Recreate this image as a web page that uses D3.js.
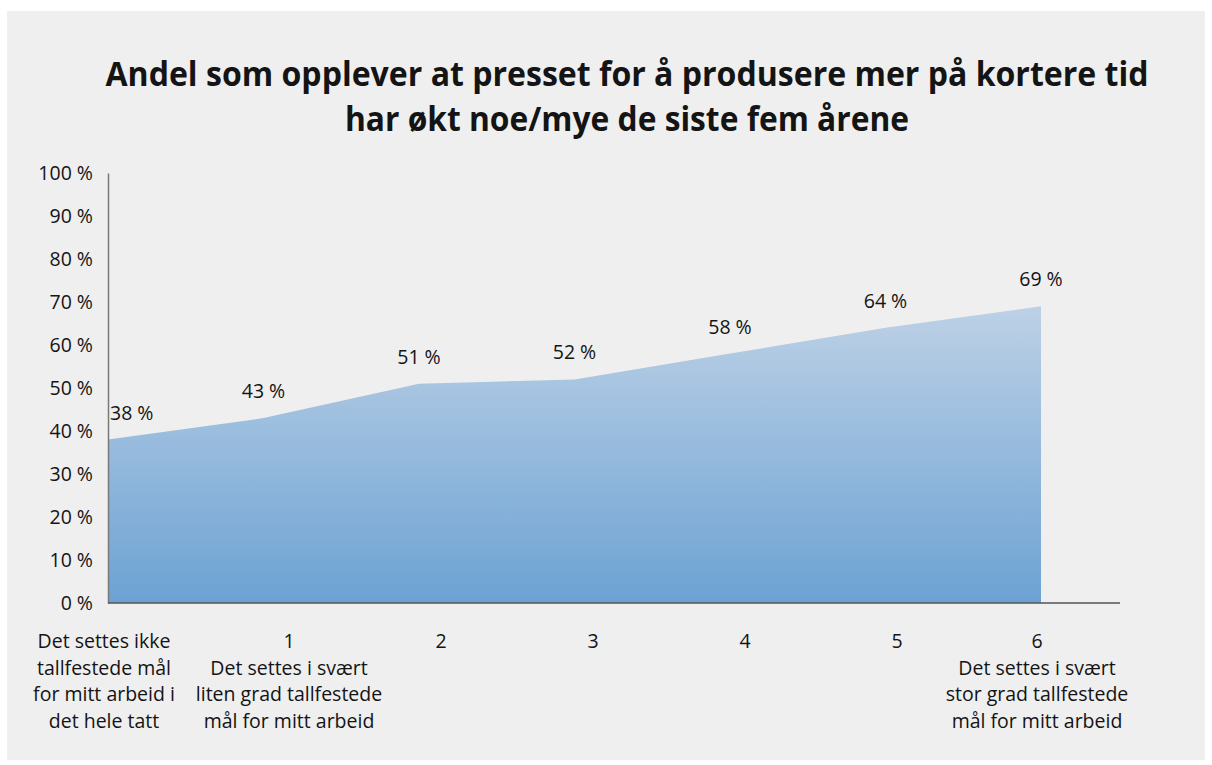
<!DOCTYPE html>
<html>
<head>
<meta charset="utf-8">
<script src="https://cdn.jsdelivr.net/npm/d3@7"></script>
<style>
  body { margin: 0; background: #ffffff; }
  svg text { font-family: "Open Sans", "Noto Sans", sans-serif; fill: #141414; }
</style>
</head>
<body>
<div id="main"></div>
<script>
// data
var categories = ["0", "1", "2", "3", "4", "5", "6"];
var values = [38, 43, 51, 52, 58, 64, 69];
var tickLabels = [
  ["Det settes ikke", "tallfestede mål", "for mitt arbeid i", "det hele tatt"],
  ["1", "Det settes i svært", "liten grad tallfestede", "mål for mitt arbeid"],
  ["2"],
  ["3"],
  ["4"],
  ["5"],
  ["6", "Det settes i svært", "stor grad tallfestede", "mål for mitt arbeid"]
];
var yTicks = [0, 10, 20, 30, 40, 50, 60, 70, 80, 90, 100];
var titleLines = [
  "Andel som opplever at presset for å produsere mer på kortere tid",
  "har økt noe/mye de siste fem årene"
];

var W = 1212, H = 765;
var fs = 19.5;
var svg = d3.select('#main').append('svg')
            .attr('width', W)
            .attr('height', H);

// grey panel
svg.append('rect')
   .attr('x', 7)
   .attr('y', 11)
   .attr('width', 1198)
   .attr('height', 749)
   .attr('fill', '#efefef');

// title
svg.selectAll('text.title')
   .data(titleLines)
   .enter().append('text')
   .attr('class', 'title')
   .attr('x', 627)
   .attr('y', function(d, i) { return 86 + i * 45; })
   .attr('text-anchor', 'middle')
   .attr('font-size', 34)
   .attr('font-weight', 700)
   .attr('textLength', function(d, i) { return i == 0 ? 1043 : 564; })
   .attr('lengthAdjust', 'spacingAndGlyphs')
   .text(function(d) { return d; });

var plotLeft = 108, plotRight = 1120, plotTop = 173, plotBottom = 603;

var x = d3.scalePoint()
          .domain(categories)
          .range([plotLeft, 1041]);

// category labels sit on their own, slightly wider spacing
var labelX = d3.scalePoint()
               .domain(categories)
               .range([137, 1049]);

var y = d3.scaleLinear()
          .domain([0, 100])
          .range([plotBottom, plotTop]);

// gradient for area
var defs = svg.append('defs');
var grad = defs.append('linearGradient')
               .attr('id', 'areaGrad')
               .attr('x1', 0).attr('y1', 0)
               .attr('x2', 0).attr('y2', 1);
grad.append('stop').attr('offset', '0%').attr('stop-color', '#bdd1e6');
grad.append('stop').attr('offset', '100%').attr('stop-color', '#6ca2d3');

var area = d3.area()
             .x(function(d, i) { return x(categories[i]); })
             .y0(y(0))
             .y1(function(d) { return y(d); });

svg.append('path')
   .datum(values)
   .attr('d', area)
   .attr('fill', 'url(#areaGrad)');

// y axis
var yAxis = d3.axisLeft(y)
              .tickValues(yTicks)
              .tickSize(0)
              .tickPadding(15)
              .tickFormat(function(d) { return d + ' %'; });

var gy = svg.append('g')
            .attr('transform', 'translate(' + plotLeft + ',0)')
            .call(yAxis);
gy.select('.domain').attr('stroke', '#7a7a7a').attr('stroke-width', 1.5);
gy.selectAll('text')
  .attr('font-size', fs)
  .attr('font-family', '"Open Sans", sans-serif')
  .attr('fill', '#141414');

// x axis line
svg.append('line')
   .attr('x1', plotLeft)
   .attr('x2', plotRight)
   .attr('y1', y(0))
   .attr('y2', y(0))
   .attr('stroke', '#555')
   .attr('stroke-width', 1.5);

// category labels
var lab = svg.selectAll('text.cat')
             .data(tickLabels)
             .enter().append('text')
             .attr('class', 'cat')
             .attr('text-anchor', 'middle')
             .attr('font-size', fs)
             .attr('transform', function(d, i) {
                 var cx = (i == 0 || i == categories.length - 1) ? x(categories[i]) - 4 : labelX(categories[i]);
                 return 'translate(' + cx + ',648)';
             });
lab.selectAll('tspan')
   .data(function(d) { return d; })
   .enter().append('tspan')
   .attr('x', 0)
   .attr('y', function(d, i) { return i * 26.7; })
   .text(function(d) { return d; });

// data labels
svg.selectAll('text.val')
   .data(values)
   .enter().append('text')
   .attr('class', 'val')
   .attr('font-size', fs)
   .attr('text-anchor', function(d, i) { return i == 0 ? 'start' : 'middle'; })
   .attr('x', function(d, i) { return i == 0 ? x(categories[i]) + 2 : x(categories[i]); })
   .attr('y', function(d) { return y(d) - 20; })
   .text(function(d) { return d + ' %'; });
</script>
</body>
</html>
